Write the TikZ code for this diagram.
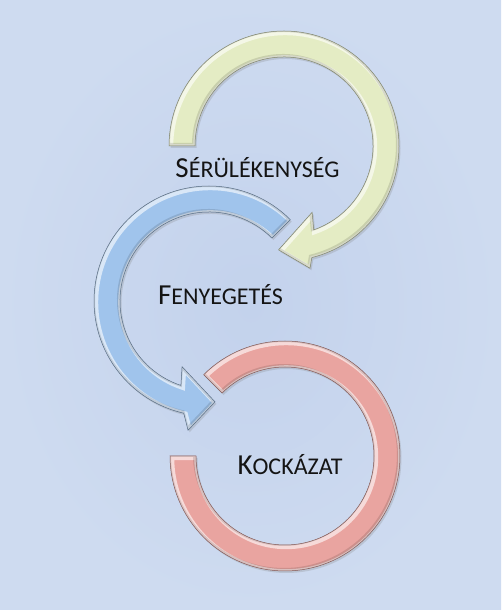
\documentclass[tikz,border=0pt]{standalone}
\usepackage{fontspec}
\setmainfont{Carlito}
\usetikzlibrary{shadows}

\definecolor{hatterbel}{RGB}{195,210,236}
\definecolor{hatterkul}{RGB}{206,219,240}
\definecolor{zold}{RGB}{228,236,196}
\definecolor{kek}{RGB}{160,196,236}
\definecolor{piros}{RGB}{233,164,160}

% kiskapitalis felirat: nagy kezdobetu, kisebb nagybetuk
\newcommand{\kiskap}[2]{{\fontsize{29}{29}\selectfont #1}{\fontsize{24}{24}\selectfont #2}}

% a harom gyuru korvonala
\newcommand{\zoldnyil}[1]{\path[shift={(zk)},#1] (180:115) arc[start angle=180,end angle=-76,radius=115] -- (-78:125) -- (-93:104) -- (-67:72) -- (-70.5:89) arc[start angle=-70.5,end angle=180,radius=89] -- cycle;}
\newcommand{\keknyil}[1]{\path[shift={(kk)},#1] (45:115) arc[start angle=45,end angle=257.3,radius=115] -- (260.8:131) -- (273.4:101) -- (247.7:71) -- (251.6:89) arc[start angle=251.6,end angle=45,radius=89] -- cycle;}
\newcommand{\pirosgyuru}[1]{\path[shift={(pk)},#1] (135:115) arc[start angle=135,end angle=-180,radius=115] -- (-180:89) arc[start angle=-180,end angle=135,radius=89] -- cycle;}

% domboru kinezet
\newcommand{\domboru}[2]{%
  #1{fill=#2, drop shadow={shadow xshift=1.5pt, shadow yshift=-2pt, opacity=0.25}}
  \begin{scope}
    #1{clip}
    #1{draw=white, line width=6pt, opacity=0.6, xshift=1.2pt, yshift=-1.2pt}
    #1{draw=black, line width=4pt, opacity=0.12, xshift=-1pt, yshift=1pt}
  \end{scope}
  #1{draw=#2!55!black, line width=0.5pt}
}

\tikzset{
  felirat/.style={anchor=base, inner sep=0pt, text=black!92}
}

\begin{document}
\begin{tikzpicture}[x=1pt,y=1pt]
	\useasboundingbox (0,0) rectangle (501,610);
	\shade[inner color=hatterbel, outer color=hatterkul] (0,0) rectangle (501,610);

	\coordinate (zk) at (284,464);
	\coordinate (kk) at (209,309);
	\coordinate (pk) at (285,154);

	% gyuruk
	\domboru{\pirosgyuru}{piros}
	\domboru{\keknyil}{kek}
	\domboru{\zoldnyil}{zold}

	% feliratok
	\node[felirat] (serul) at (257.5,432) {\kiskap{S}{ÉRÜLÉKENYSÉG}};
	\node[felirat] (fenyeg) at (220.5,305) {\kiskap{F}{ENYEGETÉS}};
	\node[felirat] (kockaz) at (290,135) {\kiskap{K}{OCKÁZAT}};
\end{tikzpicture}
\end{document}
